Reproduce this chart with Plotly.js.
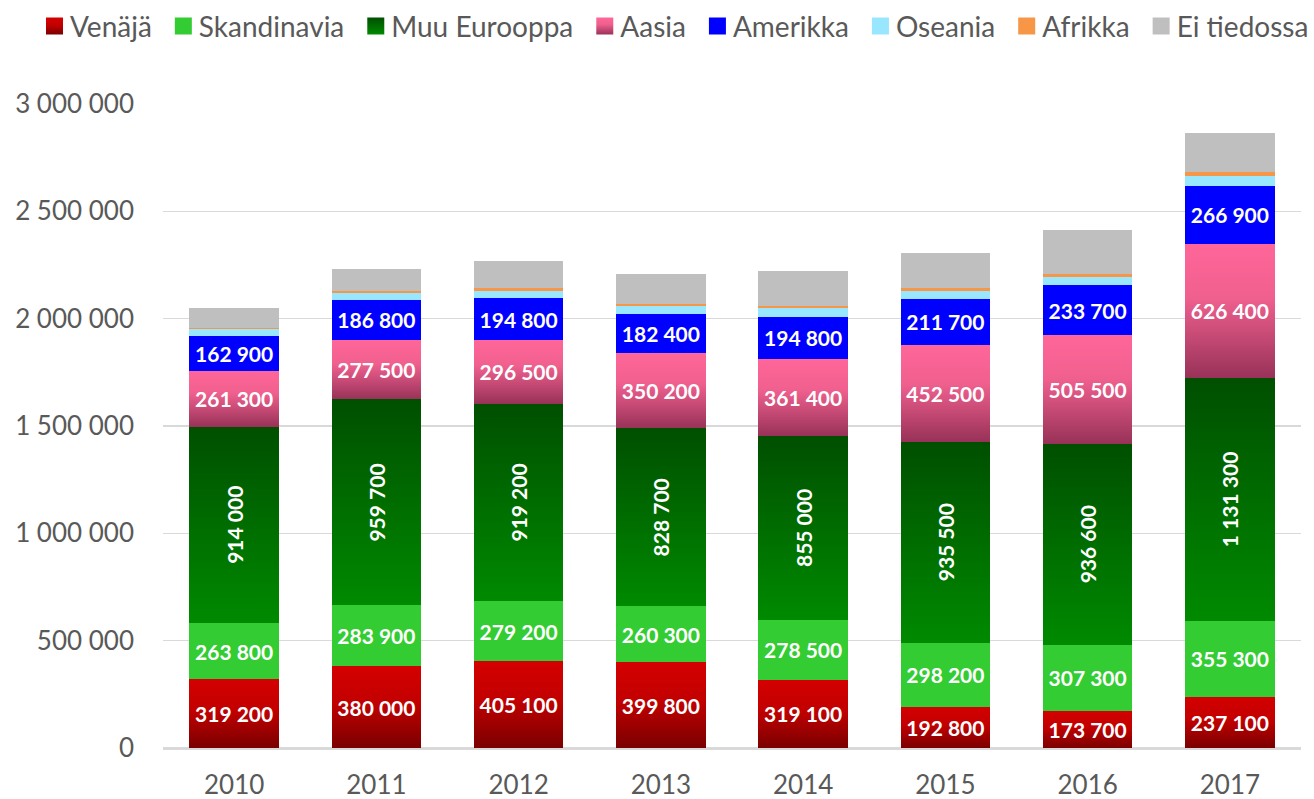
<!DOCTYPE html>
<html><head><meta charset="utf-8">
<script src="https://cdn.plot.ly/plotly-3.0.1.min.js"></script>
<style>body{margin:0;background:#fff}#chart{width:1314px;height:799px}</style>
</head><body><div id="chart"></div>
<script>
const years = ['2010','2011','2012','2013','2014','2015','2016','2017'];
const venaja      = [319200, 380000, 405100, 399800, 319100, 192800, 173700, 237100];
const skandinavia = [263800, 283900, 279200, 260300, 278500, 298200, 307300, 355300];
const muuEurooppa = [914000, 959700, 919200, 828700, 855000, 935500, 936600, 1131300];
const aasia       = [261300, 277500, 296500, 350200, 361400, 452500, 505500, 626400];
const amerikka    = [162900, 186800, 194800, 182400, 194800, 211700, 233700, 266900];
const oseania     = [29000, 31000, 35000, 36000, 39000, 40000, 36000, 48000];
const afrikka     = [8000, 10000, 11000, 10000, 12000, 14000, 15000, 16000];
const eiTiedossa  = [92000, 102000, 127000, 140000, 163000, 161000, 206000, 184000];
const yTicks = [0, 500000, 1000000, 1500000, 2000000, 2500000, 3000000];

const FONT = 'Lato, "Open Sans", sans-serif';
function tr(name, y, color, labelled, angle) {
  return {
    type: 'bar', name: name, x: years, y: y,
    marker: {color: color, line: {width: 0}},
    texttemplate: labelled ? '%{y:,.0f}' : '',
    textposition: labelled ? 'inside' : 'none',
    insidetextanchor: 'middle',
    textangle: angle || 0,
    constraintext: 'none',
    insidetextfont: {family: FONT, size: 21, color: '#ffffff', weight: 'bold'},
    hoverinfo: 'skip'
  };
}
const data = [
  tr('Venäjä', venaja, '#c00000', true),
  tr('Skandinavia', skandinavia, '#33cc33', true),
  tr('Muu Eurooppa', muuEurooppa, '#006600', true, -90),
  tr('Aasia', aasia, '#ff6699', true),
  tr('Amerikka', amerikka, '#0000ff', true),
  tr('Oseania', oseania, '#99e6ff', false),
  tr('Afrikka', afrikka, '#f79646', false),
  tr('Ei tiedossa', eiTiedossa, '#bfbfbf', false)
];
const layout = {
  width: 1314, height: 799,
  margin: {l: 163, r: 13, t: 104, b: 51},
  barmode: 'stack', bargap: 0.37,
  separators: ', ',
  paper_bgcolor: '#ffffff', plot_bgcolor: '#ffffff',
  font: {family: FONT, color: '#595959', size: 26},
  showlegend: true,
  legend: {orientation: 'h', traceorder: 'normal', xref: 'container', yref: 'container',
           x: 0.02, xanchor: 'left', y: 0.968, yanchor: 'middle',
           font: {family: FONT, size: 28, color: '#595959'}, itemwidth: 30, tracegroupgap: 0},
  xaxis: {type: 'category', showgrid: false, showline: true, linecolor: '#d9d9d9', linewidth: 1.5,
          ticks: '', ticklabelstandoff: 13, tickfont: {family: FONT, size: 26, color: '#595959'}, fixedrange: true},
  yaxis: {range: [0, 3000000], tickvals: yTicks, tickformat: ',.0f', showgrid: true, gridcolor: '#d9d9d9', gridwidth: 1.3,
          zeroline: true, zerolinecolor: '#d9d9d9', zerolinewidth: 1.5, ticks: '', ticklabelstandoff: 28,
          tickfont: {family: FONT, size: 26, color: '#595959'}, fixedrange: true}
};
const grads = {
  0: ['gVen', [[0,'#d40000'],[0.45,'#c20000'],[1,'#7a0000']]],
  2: ['gMuu', [[0,'#004f00'],[1,'#008a00']]],
  3: ['gAas', [[0,'#ff6699'],[0.4,'#f0608f'],[1,'#983258']]]
};
const LEG = {start: 46, centerY: 26, sq: 17, textGap: 7, itemGap: 23};
function applyGrad(gd) {
  const svg = gd.querySelector('svg.main-svg');
  if (!svg) return;
  const NS = 'http://www.w3.org/2000/svg';
  if (!svg.querySelector('#gVen')) {
    const defs = document.createElementNS(NS, 'defs');
    Object.values(grads).forEach(([id, stops]) => {
      const lg = document.createElementNS(NS, 'linearGradient');
      lg.setAttribute('id', id); lg.setAttribute('x1','0'); lg.setAttribute('y1','0');
      lg.setAttribute('x2','0'); lg.setAttribute('y2','1');
      stops.forEach(([o,c]) => {
        const s = document.createElementNS(NS, 'stop');
        s.setAttribute('offset', o); s.setAttribute('stop-color', c);
        lg.appendChild(s);
      });
      defs.appendChild(lg);
    });
    svg.insertBefore(defs, svg.firstChild);
  }
  gd.querySelectorAll('.barlayer .trace').forEach((t, i) => {
    if (grads[i]) t.querySelectorAll('.point path').forEach(p => { p.style.fill = 'url(#' + grads[i][0] + ')'; });
  });
  const sb = gd.querySelector('.legend .scrollbox');
  if (sb) sb.removeAttribute('clip-path');
  const gdRect = gd.getBoundingClientRect();
  let cursor = LEG.start;
  const h = LEG.sq / 2;
  gd.querySelectorAll('.legend .traces').forEach((t, i) => {
    const p = t.querySelector('.legendpoints path');
    const txt = t.querySelector('.legendtext');
    if (!p || !txt) return;
    p.setAttribute('d', 'M' + h + ',' + h + 'H-' + h + 'V-' + h + 'H' + h + 'Z');
    if (grads[i]) p.style.fill = 'url(#' + grads[i][0] + ')';
    const m = /translate\(\s*([-\d.]+)[ ,]+([-\d.]+)/.exec(t.getAttribute('transform') || '');
    let tx = m ? parseFloat(m[1]) : 0, ty = m ? parseFloat(m[2]) : 0;
    const pr = p.getBoundingClientRect();
    const trc = txt.getBoundingClientRect();
    const dText = (pr.right + LEG.textGap) - trc.left;
    txt.setAttribute('x', parseFloat(txt.getAttribute('x') || 0) + dText);
    const width = (trc.right + dText) - pr.left;
    const sx = (cursor + gdRect.left) - pr.left;
    const sy = (LEG.centerY + gdRect.top) - (pr.top + pr.bottom) / 2;
    t.setAttribute('transform', 'translate(' + (tx + sx) + ',' + (ty + sy) + ')');
    cursor += width + LEG.itemGap;
  });
  const bg = gd.querySelector('.legend .bg');
  if (bg) bg.style.fill = 'none';
}
const gd = document.getElementById('chart');
Plotly.newPlot(gd, data, layout, {displayModeBar: false, staticPlot: true}).then(() => {
  applyGrad(gd);
  gd.on('plotly_afterplot', () => applyGrad(gd));
});
</script>
</body></html>
